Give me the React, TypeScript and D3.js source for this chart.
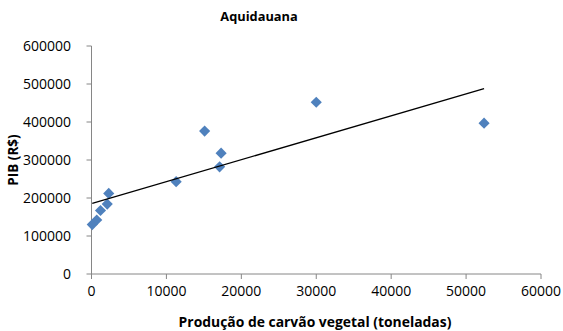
import React from "react";
import * as d3 from "d3";

const productionTons = [100, 700, 1200, 2100, 2300, 11300, 15100, 17100, 17300, 30000, 52400];
const pibValues = [130000, 142000, 167000, 184000, 212000, 243000, 376000, 282000, 318000, 452000, 397000];
const xTicks = [0, 10000, 20000, 30000, 40000, 50000, 60000];
const yTicks = [0, 100000, 200000, 300000, 400000, 500000, 600000];
const title = "Aquidauana";
const xTitle = "Produção de carvão vegetal (toneladas)";
const yTitle = "PIB (R$)";

const W = 563, H = 331;
const left = 91.5, right = 541, top = 46, bottom = 274;
const font = "'Open Sans', 'Noto Sans', sans-serif";
const axisColor = "#868686";

export default function App() {
  const x = d3.scaleLinear().domain([0, 60000]).range([left, right]);
  const y = d3.scaleLinear().domain([0, 600000]).range([bottom, top]);

  const n = productionTons.length;
  const mx = d3.mean(productionTons)!;
  const my = d3.mean(pibValues)!;
  let sxy = 0, sxx = 0;
  for (let i = 0; i < n; i++) {
    sxy += (productionTons[i] - mx) * (pibValues[i] - my);
    sxx += (productionTons[i] - mx) ** 2;
  }
  const slope = sxy / sxx;
  const intercept = my - slope * mx;
  const [x0, x1] = d3.extent(productionTons) as [number, number];
  const trend = d3.line<number>().x((v) => x(v)).y((v) => y(intercept + slope * v))([x0, x1]);

  const diamond = d3.symbol().type(d3.symbolSquare).size(62)()!;

  return (
    <svg width={W} height={H} style={{ position: "absolute", left: 0, top: 0, background: "#fff" }} fontFamily={font}>
      <text x={259} y={21} textAnchor="middle" fontWeight="bold" fontSize={12.8} fill="#000">{title}</text>
      {/* y axis */}
      <line x1={left} x2={left} y1={top} y2={bottom} stroke={axisColor} strokeWidth={1} />
      {yTicks.map((t) => (
        <g key={"y" + t}>
          <line x1={left - 5} x2={left} y1={y(t)} y2={y(t)} stroke={axisColor} />
          <text x={71} y={y(t)} dy="0.35em" textAnchor="end" fontSize={14} fill="#000">{t}</text>
        </g>
      ))}
      {/* x axis */}
      <line x1={left} x2={right} y1={bottom} y2={bottom} stroke={axisColor} strokeWidth={1} />
      {xTicks.map((t) => (
        <g key={"x" + t}>
          <line x1={x(t)} x2={x(t)} y1={bottom} y2={bottom + 5} stroke={axisColor} />
          <text x={x(t)} y={296} textAnchor="middle" fontSize={14} fill="#000">{t}</text>
        </g>
      ))}
      <text x={315} y={327} textAnchor="middle" fontWeight="bold" fontSize={13.9} fill="#000">{xTitle}</text>
      <text transform={`translate(18,160) rotate(-90)`} textAnchor="middle" fontWeight="bold" fontSize={13.5} fill="#000">{yTitle}</text>
      {productionTons.map((v, i) => (
        <path key={i} d={diamond} transform={`translate(${x(v)},${y(pibValues[i])}) rotate(45)`} fill="#4F81BD" />
      ))}
      <path d={trend!} stroke="#000" strokeWidth={1.25} fill="none" />
    </svg>
  );
}
